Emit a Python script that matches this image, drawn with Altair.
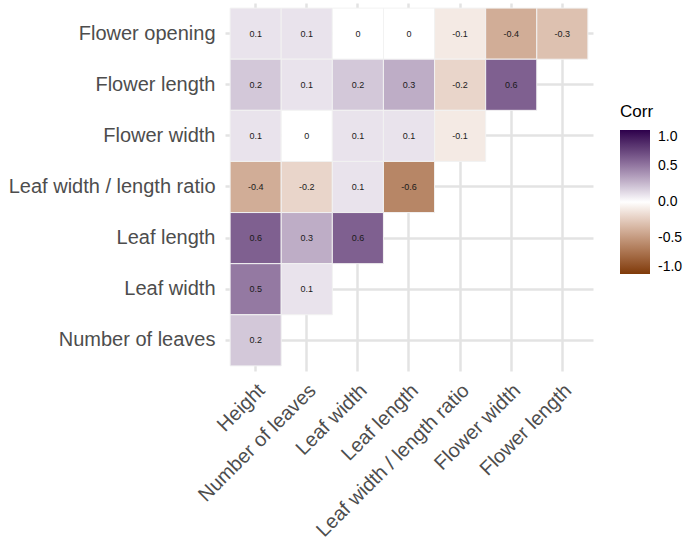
import altair as alt
import pandas as pd

# Correlation matrix (lower triangle) between plant traits
cols = ["Height", "Number of leaves", "Leaf width", "Leaf length",
        "Leaf width / length ratio", "Flower width", "Flower length"]
rows = ["Flower opening", "Flower length", "Flower width",
        "Leaf width / length ratio", "Leaf length", "Leaf width",
        "Number of leaves"]

corr_flower_opening = [0.1, 0.1, 0, 0, -0.1, -0.4, -0.3]
corr_flower_length = [0.2, 0.1, 0.2, 0.3, -0.2, 0.6]
corr_flower_width = [0.1, 0, 0.1, 0.1, -0.1]
corr_leaf_ratio = [-0.4, -0.2, 0.1, -0.6]
corr_leaf_length = [0.6, 0.3, 0.6]
corr_leaf_width = [0.5, 0.1]
corr_number_leaves = [0.2]

legend_ticks = [-1, -0.5, 0, 0.5, 1]

row_values = [corr_flower_opening, corr_flower_length, corr_flower_width,
              corr_leaf_ratio, corr_leaf_length, corr_leaf_width,
              corr_number_leaves]

records = []
for row, vals in zip(rows, row_values):
    for col, v in zip(cols, vals):
        records.append({"row": row, "col": col, "corr": v,
                        "label": f"{v:g}"})
df = pd.DataFrame(records)

FONT = "Liberation Sans"

x_enc = alt.X("col:N", sort=cols, title=None,
              scale=alt.Scale(paddingInner=0, paddingOuter=0.1),
              axis=alt.Axis(grid=True, ticks=False, domain=False, zindex=0,
                            labelAngle=-45, labelAlign="right",
                            labelBaseline="top", labelPadding=9,
                            labelOffset=-1, labelLimit=0,
                            labelFontSize=20, labelColor="#4d4d4d",
                            labelFont=FONT, gridColor="#e3e3e3",
                            gridWidth=2.5))
y_enc = alt.Y("row:N", sort=rows, title=None,
              scale=alt.Scale(paddingInner=0, paddingOuter=0.1),
              axis=alt.Axis(grid=True, ticks=False, domain=False, zindex=0,
                            labelPadding=10, labelFontSize=20,
                            labelLimit=0,
                            labelColor="#4d4d4d", labelFont=FONT,
                            gridColor="#e3e3e3", gridWidth=2.5))

color_enc = alt.Color(
    "corr:Q", title="Corr",
    scale=alt.Scale(domain=[-1, 0, 1],
                    range=["#7f3b08", "#ffffff", "#2d004b"],
                    interpolate="lab"),
    legend=alt.Legend(orient="none", legendX=395, legendY=101,
                      values=legend_ticks,
                      labelExpr="replace(format(datum.value, '.1f'), '\u2212', '-')",
                      gradientLength=144, gradientThickness=30,
                      gradientStrokeWidth=0,
                      titleFontSize=17, titleFont=FONT,
                      titleColor="#000000", titleFontWeight="normal",
                      titlePadding=9, labelFontSize=14, labelFont=FONT,
                      labelColor="#000000", labelOffset=8,
                      labelAlign="left", labelBaseline="middle"))

tiles = alt.Chart(df).mark_rect(stroke="#f2f2f2", strokeWidth=1).encode(
    x=x_enc, y=y_enc, color=color_enc)

labels = alt.Chart(df).mark_text(font=FONT, fontSize=9, color="#1a1a1a").encode(
    x=x_enc, y=y_enc, text="label:N")

chart = (tiles + labels).properties(
    width=368, height=368,
    background="white",
    autosize=alt.AutoSizeParams(type="none"),
    padding={"left": 225, "top": 3, "right": 94, "bottom": 173},
).configure_view(stroke=None)

chart.save("out.html", embed_options={"renderer": "svg", "actions": False})
